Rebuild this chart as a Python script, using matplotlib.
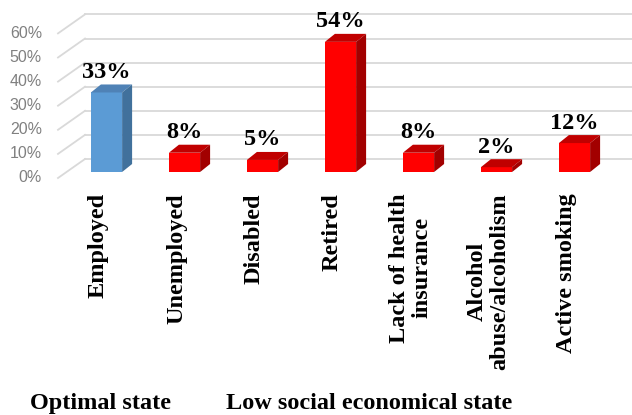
import matplotlib
matplotlib.use("Agg")
import matplotlib.pyplot as plt
from matplotlib.patches import Polygon
from matplotlib.lines import Line2D
import matplotlib.transforms as mtransforms

# ---- data ----
categories = ["Employed", "Unemployed", "Disabled", "Retired",
              "Lack of health\ninsurance", "Alcohol\nabuse/alcoholism", "Active smoking"]
values = [33, 8, 5, 54, 8, 2, 12]
value_labels = ["33%", "8%", "5%", "54%", "8%", "2%", "12%"]
yticks = [0, 10, 20, 30, 40, 50, 60]
ytick_labels = ["0%", "10%", "20%", "30%", "40%", "50%", "60%"]
groups = ["Optimal state", "Low social economical state"]
group_of_bar = [0, 1, 1, 1, 1, 1, 1]

# ---- styles ----
front_colors = ["#5b9bd5", "#ff0000"]
top_colors = ["#4f82b6", "#c00000"]
side_colors = ["#41719c", "#a20000"]
serif = ["Liberation Serif", "DejaVu Serif"]
sans = ["Liberation Sans", "DejaVu Sans"]

W, H, DPI = 632, 415, 100
fig = plt.figure(figsize=(W / DPI, H / DPI), dpi=DPI)

# axes geometry (pixels from top)
x_left_px, x_right_px = 67.5, 613.5
y0_px, ytop_px = 172.0, 27.4
ax = fig.add_axes([x_left_px / W, (H - y0_px) / H,
                   (x_right_px - x_left_px) / W, (y0_px - ytop_px) / H])
ax.set_xlim(-0.5, 6.5)
ax.set_ylim(0, 60)
ax.axis("off")
fig.canvas.draw()

ident = mtransforms.IdentityTransform()
DEPTH = (10, 8)        # bar depth (display px)
BACK = (18, 13)        # back wall relative to bar front plane
FRONT = (-8, -6)       # front plane relative to bar front plane

# gridlines (back wall + left wall)
for t in yticks:
    _, yd = ax.transData.transform((0, t))
    ax.add_line(Line2D([85, W], [yd + BACK[1], yd + BACK[1]], transform=ident,
                       color="#d9d9d9", lw=1.3, zorder=1, clip_on=False))
    ax.add_line(Line2D([58, 85], [yd + FRONT[1], yd + BACK[1]], transform=ident,
                       color="#d9d9d9", lw=1.3, zorder=1, clip_on=False))

# y tick labels (front plane)
for t, lab in zip(yticks, ytick_labels):
    _, yd = ax.transData.transform((0, t))
    fig.text(42 / W, (yd + FRONT[1]) / H, lab, ha="right", va="center",
             fontsize=11.5, family=sans, color="#808080")

# bars
xs = list(range(len(values)))
fc = [front_colors[g] for g in group_of_bar]
bars = ax.bar(xs, values, width=0.4, color=fc, linewidth=0, zorder=3)
for i, b in enumerate(bars):
    g = group_of_bar[i]
    (x0, yb), (x1, yt) = ax.transData.transform([(b.get_x(), 0),
                                                  (b.get_x() + b.get_width(), b.get_height())])
    dx, dy = DEPTH
    top = Polygon([(x0, yt), (x1, yt), (x1 + dx, yt + dy), (x0 + dx, yt + dy)],
                  closed=True, transform=ident, facecolor=top_colors[g],
                  edgecolor="none", zorder=3, clip_on=False)
    side = Polygon([(x1, yb), (x1 + dx, yb + dy), (x1 + dx, yt + dy), (x1, yt)],
                   closed=True, transform=ident, facecolor=side_colors[g],
                   edgecolor="none", zorder=3, clip_on=False)
    ax.add_patch(top)
    ax.add_patch(side)

# value labels
lab_tr = mtransforms.offset_copy(ax.transData, fig=fig, x=0, y=14.5, units="dots")
for i, (v, lab) in enumerate(zip(values, value_labels)):
    ax.text(i, v, lab, transform=lab_tr, ha="center", va="baseline",
            fontsize=17.5, fontweight="bold", family=serif, color="black",
            clip_on=False, zorder=5)

# category labels
cat_tr = mtransforms.offset_copy(ax.transData, fig=fig, x=-8, y=-21, units="dots")
for i, c in enumerate(categories):
    ax.text(i, 0, c, transform=cat_tr, rotation=90, rotation_mode="anchor",
            ha="right", va="center", multialignment="center", linespacing=1.1,
            fontsize=17.5, fontweight="bold", family=serif, color="black",
            clip_on=False)

# group labels
fig.text(30 / W, 6 / H, groups[0], ha="left", va="baseline",
         fontsize=17.5, fontweight="bold", family=serif)
fig.text(226 / W, 6 / H, groups[1], ha="left", va="baseline",
         fontsize=17.5, fontweight="bold", family=serif)

fig.savefig("out.png", dpi=DPI)
